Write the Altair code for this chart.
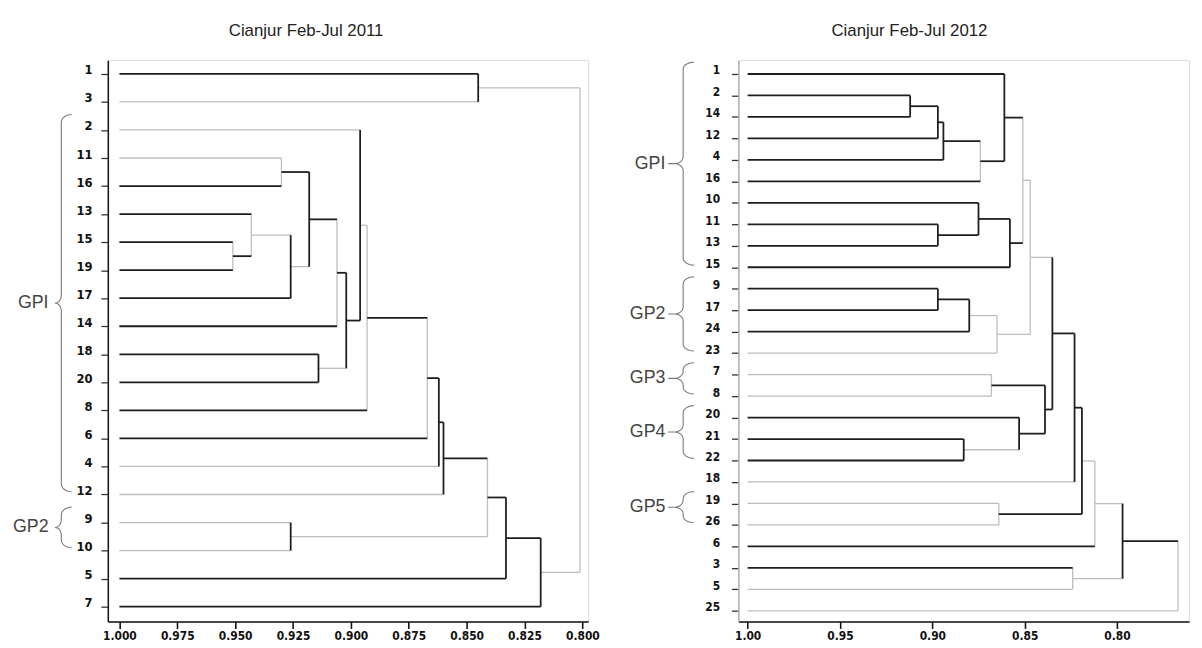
import json
import numpy as np
import pandas as pd
import altair as alt

NARROW = "Liberation Sans Narrow, DejaVu Sans Condensed, Arial Narrow, sans-serif"
SANS = "Liberation Sans, Arial, Helvetica, sans-serif"

# ---------------- Cianjur Feb-Jul 2011 ----------------
L_TITLE = "Cianjur Feb-Jul 2011"
L_LEAVES = ["1", "3", "2", "11", "16", "13", "15", "19", "17", "14",
            "18", "20", "8", "6", "4", "12", "9", "10", "5", "7"]
L_LEAF_TONE = ["D", "L", "L", "L", "D", "D", "D", "D", "D", "D",
               "D", "D", "D", "D", "L", "L", "L", "L", "D", "D"]
L_MERGE_A = ["1", "11", "15", "13", "m3", "m1", "m5", "18", "m6", "2",
             "m9", "m10", "m11", "m12", "9", "m13", "m15", "m16", "m0"]
L_MERGE_B = ["3", "16", "19", "m2", "17", "m4", "14", "20", "m7", "m8",
             "8", "6", "4", "12", "10", "m14", "5", "7", "m17"]
L_MERGE_H = [0.845, 0.930, 0.951, 0.943, 0.926, 0.918, 0.906, 0.914, 0.902, 0.896,
             0.893, 0.867, 0.862, 0.860, 0.926, 0.841, 0.833, 0.818, 0.801]
L_MERGE_VTONE = ["D", "L", "L", "L", "D", "D", "L", "D", "D", "D",
                 "L", "L", "D", "D", "D", "L", "D", "D", "L"]
L_MERGE_STONE = ["L", "D", "D", "L", "L", "D", "D", "L", "D", "L",
                 "D", "D", "D", "D", "L", "D", "D", "L", "-"]
L_XTICKS = [1.000, 0.975, 0.950, 0.925, 0.900, 0.875, 0.850, 0.825, 0.800]
L_GROUPS = ["GPI", "GP2"]
L_GROUP_FIRST = ["2", "9"]
L_GROUP_LAST = ["12", "10"]

# ---------------- Cianjur Feb-Jul 2012 ----------------
R_TITLE = "Cianjur Feb-Jul 2012"
R_LEAVES = ["1", "2", "14", "12", "4", "16", "10", "11", "13", "15", "9", "17", "24",
            "23", "7", "8", "20", "21", "22", "18", "19", "26", "6", "3", "5", "25"]
R_LEAF_TONE = ["D", "D", "D", "D", "D", "D", "D", "D", "D", "D", "D", "D", "D",
               "L", "L", "L", "D", "D", "D", "L", "L", "L", "D", "D", "L", "L"]
R_MERGE_A = ["2", "r0", "r1", "r2", "1", "11", "10", "r6", "r4", "9", "r9", "r10", "r8",
             "7", "21", "20", "r13", "r12", "r17", "19", "r18", "r20", "3", "r21", "r23"]
R_MERGE_B = ["14", "12", "4", "16", "r3", "13", "r5", "15", "r7", "17", "24", "23", "r11",
             "8", "22", "r14", "r15", "r16", "18", "26", "r19", "6", "5", "r22", "25"]
R_MERGE_H = [0.912, 0.897, 0.894, 0.874, 0.861, 0.897, 0.875, 0.858, 0.851, 0.897, 0.880, 0.865, 0.847,
             0.868, 0.883, 0.853, 0.839, 0.835, 0.823, 0.864, 0.819, 0.812, 0.824, 0.797, 0.767]
R_MERGE_VTONE = ["D", "D", "D", "L", "D", "D", "D", "D", "L", "D", "D", "L", "L",
                 "L", "D", "D", "D", "D", "D", "L", "D", "L", "L", "D", "L"]
R_MERGE_STONE = ["D", "D", "D", "D", "D", "D", "D", "D", "L", "D", "L", "L", "L",
                 "D", "L", "D", "D", "D", "D", "D", "L", "L", "L", "D", "-"]
R_XTICKS = [1.00, 0.95, 0.90, 0.85, 0.80]
R_GROUPS = ["GPI", "GP2", "GP3", "GP4", "GP5"]
R_GROUP_FIRST = ["1", "9", "7", "20", "19"]
R_GROUP_LAST = ["15", "23", "8", "22", "26"]


def dendro_segments(leaves, leaf_tone, ma, mb, mh, vtone, stone, prefix):
    pos = {}
    for i, (lab, t) in enumerate(zip(leaves, leaf_tone)):
        pos[lab] = (1.0, float(i), t)
    rows = []
    for k in range(len(ma)):
        xa, ya, ta = pos[ma[k]]
        xb, yb, tb = pos[mb[k]]
        h = mh[k]
        rows.append(dict(x=xa, x2=h, y=ya, y2=ya, tone=ta))
        rows.append(dict(x=xb, x2=h, y=yb, y2=yb, tone=tb))
        rows.append(dict(x=h, x2=h, y=ya, y2=yb, tone=vtone[k]))
        pos[f"{prefix}{k}"] = (h, (ya + yb) / 2.0, stone[k])
    df = pd.DataFrame(rows)
    df["z"] = (df["tone"] == "D").astype(int)
    return df.sort_values("z", kind="stable").reset_index(drop=True)


def braces(leaves, groups, first, last, u_s, w_tip, w_pt, ry, u_label, u_dash=None):
    pts, labels = [], []
    phi = np.linspace(0, np.pi / 2, 8)
    for g, f, l in zip(groups, first, last):
        top = leaves.index(f) - 0.55
        bot = leaves.index(l) - 0.1
        mid = (top + bot) / 2.0
        seq = []
        for p in phi:
            seq.append((u_s - w_tip + w_tip * np.sin(p), top + ry - ry * np.cos(p)))
        for p in phi:
            seq.append((u_s + w_pt - w_pt * np.cos(p), mid - ry + ry * np.sin(p)))
        if u_dash is not None:
            seq.append((u_dash, mid))
            seq.append((u_s + w_pt, mid))
        for p in phi[::-1]:
            seq.append((u_s + w_pt - w_pt * np.cos(p), mid + ry - ry * np.sin(p)))
        for p in phi:
            seq.append((u_s - w_tip + w_tip * np.cos(p), bot - ry + ry * np.sin(p)))
        for i, (u, v) in enumerate(seq):
            pts.append(dict(g=g, i=i, x=u, y=v))
        labels.append(dict(g=g, x=u_label, y=mid))
    return pd.DataFrame(pts), pd.DataFrame(labels)


def panel(title, leaves, segs, bpts, blabels, xdom, ydom, xticks, fmt, width,
          ydomain_color, ylabel_size, ylabel_pad):
    xscale = alt.Scale(domain=xdom, reverse=True, nice=False, zero=False)
    yscale = alt.Scale(domain=ydom, reverse=True, nice=False, zero=False)
    xaxis = alt.Axis(values=xticks, format=fmt, title=None, grid=False,
                     domainColor="#111", domainWidth=1.6, tickColor="#111",
                     tickWidth=1.6, tickSize=7, labelFont=NARROW,
                     labelFontWeight="bold", labelFontSize=12, labelColor="#111",
                     labelPadding=2)
    yaxis = alt.Axis(values=list(range(len(leaves))),
                     labelExpr=json.dumps(leaves) + "[datum.value]",
                     title=None, grid=False, domainColor=ydomain_color,
                     domainWidth=1.5, tickColor="#333", tickWidth=1.3, tickSize=7,
                     labelFont=NARROW, labelFontWeight="bold",
                     labelFontSize=ylabel_size, labelColor="#111",
                     labelPadding=ylabel_pad, labelBaseline="bottom", labelOffset=3)
    X = alt.X("x:Q", scale=xscale, axis=xaxis)
    Y = alt.Y("y:Q", scale=yscale, axis=yaxis)
    rules = alt.Chart(segs).mark_rule().encode(
        x=X, x2="x2:Q", y=Y, y2="y2:Q",
        color=alt.Color("tone:N", scale=alt.Scale(domain=["D", "L"], range=["#1e1e1e", "#bdbdbd"]), legend=None),
        strokeWidth=alt.StrokeWidth("tone:N", scale=alt.Scale(domain=["D", "L"], range=[1.8, 1.3]), legend=None),
    )
    blines = alt.Chart(bpts).mark_line(color="#7a7a7a", strokeWidth=1.1).encode(
        x=X, y=Y, detail="g:N", order=alt.Order("i:Q"))
    btext = alt.Chart(blabels).mark_text(align="right", baseline="middle", font=SANS,
                                         fontSize=18, color="#444").encode(
        x=X, y=Y, text="g:N")
    return alt.layer(rules, blines, btext).properties(
        width=width, height=568,
        title=alt.TitleParams(text=title, font=SANS, fontSize=17, fontWeight="normal",
                              color="#222", anchor="middle", frame="bounds", offset=20))


l_segs = dendro_segments(L_LEAVES, L_LEAF_TONE, L_MERGE_A, L_MERGE_B, L_MERGE_H,
                         L_MERGE_VTONE, L_MERGE_STONE, "m")
r_segs = dendro_segments(R_LEAVES, R_LEAF_TONE, R_MERGE_A, R_MERGE_B, R_MERGE_H,
                         R_MERGE_VTONE, R_MERGE_STONE, "r")

l_bp, l_bl = braces(L_LEAVES, L_GROUPS, L_GROUP_FIRST, L_GROUP_LAST,
                    u_s=1.0251, w_tip=0.0045, w_pt=0.0027, ry=0.28, u_label=1.0306)
r_bp, r_bl = braces(R_LEAVES, R_GROUPS, R_GROUP_FIRST, R_GROUP_LAST,
                    u_s=1.0349, w_tip=0.0059, w_pt=0.0048, ry=0.32, u_label=1.0445,
                    u_dash=1.0430)

left = panel(L_TITLE, L_LEAVES, l_segs, l_bp, l_bl, [0.7975, 1.005], [-0.49, 19.53],
             L_XTICKS, ".3f", 486, "#111", 13, 9)
right = panel(R_TITLE, R_LEAVES, r_segs, r_bp, r_bl, [0.761, 1.005], [-0.645, 25.5],
              R_XTICKS, ".2f", 456, "#b0b0b0", 12, 12)

chart = alt.hconcat(left, right, spacing=29).properties(
    padding={"left": 4, "top": 10, "right": 4, "bottom": 0}
).configure_view(stroke=None).configure(background="white")

chart.save("out.html", embed_options={"renderer": "svg", "actions": False})
